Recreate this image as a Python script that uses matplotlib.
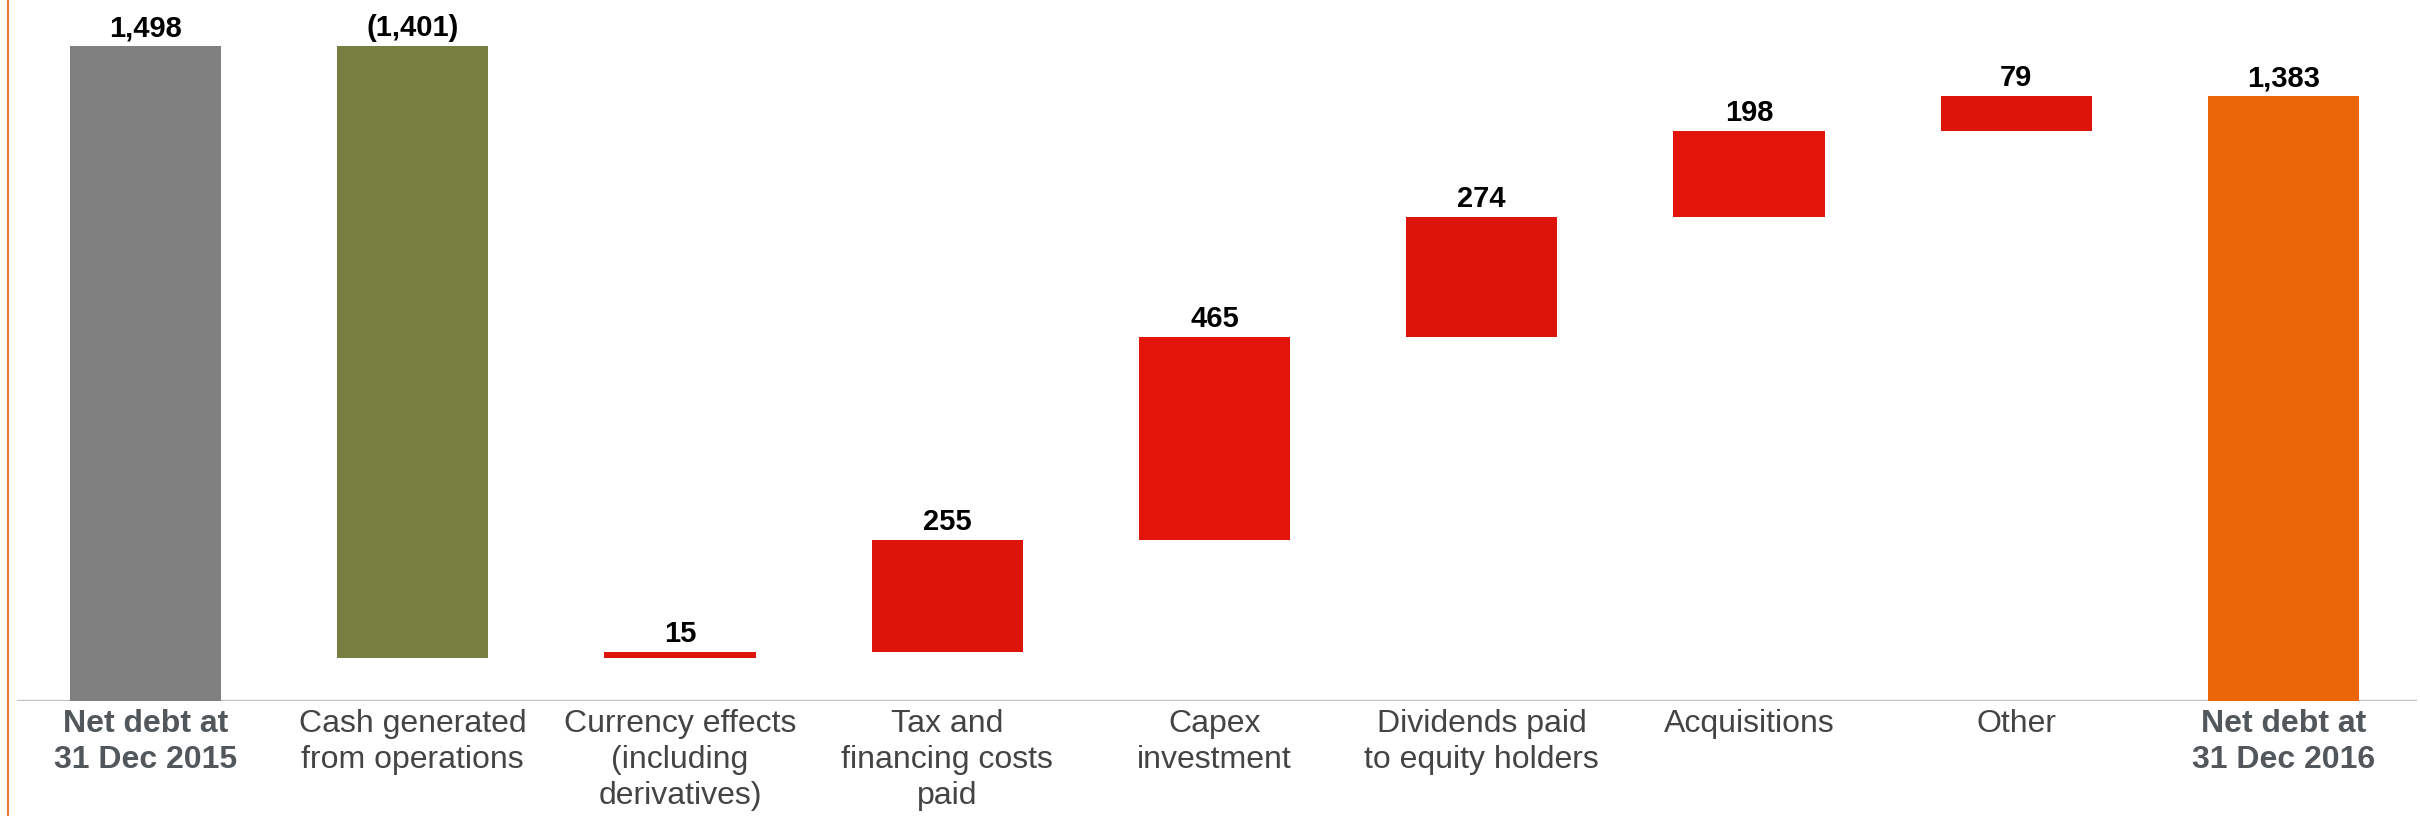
import numpy as np
import matplotlib
matplotlib.use("Agg")
import matplotlib.pyplot as plt
from matplotlib.lines import Line2D

plt.rcParams['font.family'] = ['Liberation Sans', 'DejaVu Sans']

# Net debt bridge 2015 -> 2016
categories = ["Net debt at\n31 Dec 2015", "Cash generated\nfrom operations",
              "Currency effects\n(including\nderivatives)", "Tax and\nfinancing costs\npaid",
              "Capex\ninvestment", "Dividends paid\nto equity holders", "Acquisitions",
              "Other", "Net debt at\n31 Dec 2016"]
opening = 1498
movements = [-1401, 15, 255, 465, 274, 198, 79]
value_labels = ["1,498", "(1,401)", "15", "255", "465", "274", "198", "79", "1,383"]
bar_colors = ["#808080", "#777f40", "#dc1409", "#dc1409", "#e3140a",
              "#dc1409", "#e3140a", "#dc1409", "#eb6608"]

# build bottoms and heights for the floating bars
closing = opening + sum(movements)
bottoms = [0]
heights = [opening]
running = opening
for m in movements:
    bottoms.append(min(running, running + m))
    heights.append(abs(m))
    running += m
bottoms.append(0)
heights.append(closing)
tops = [b + h for b, h in zip(bottoms, heights)]

fig = plt.figure(figsize=(24.2, 8.16), dpi=100)
ax = fig.add_axes([7 / 2420, 115.5 / 816, 2410 / 2420, 700.5 / 816])

x = np.arange(len(categories))
ax.bar(x, heights, bottom=bottoms, width=0.566, color=bar_colors, zorder=2)

for xi, top, lab in zip(x, tops, value_labels):
    ax.annotate(lab, (xi, top), xytext=(0, 7), textcoords="offset points",
                ha="center", va="baseline", fontsize=21, fontweight="bold",
                color="black", clip_on=False)

ax.axhline(0, xmin=0.0046, xmax=1, color="#c3beb9", linewidth=1.6, zorder=1)

ax.set_xlim(-0.518, 8.5)
ax.set_ylim(0, 1603)
ax.set_xticks(x)
ax.set_xticklabels(categories, fontsize=23, color="#444444", linespacing=1.27)
ax.tick_params(axis="x", length=0, pad=6)
ax.set_yticks([])
for i in (0, len(categories) - 1):
    lbl = ax.get_xticklabels()[i]
    lbl.set_fontweight("bold")
    lbl.set_color("#51575a")
for s in ax.spines.values():
    s.set_visible(False)

# orange rule down the left edge
fig.add_artist(Line2D([7.5 / 2420, 7.5 / 2420], [0, 1], transform=fig.transFigure,
                      color="#ee7b30", linewidth=1.5))

fig.savefig("out.png", dpi=100)
